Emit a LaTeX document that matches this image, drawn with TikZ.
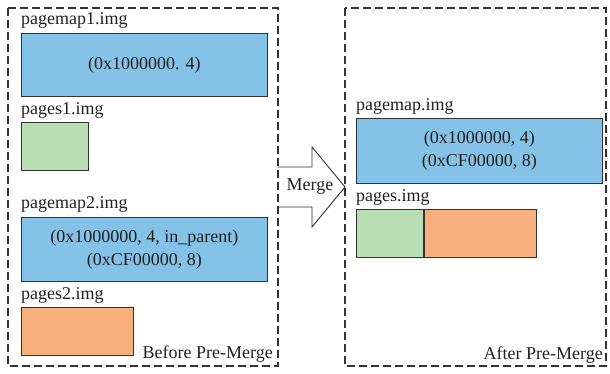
\documentclass[tikz,border=0pt]{standalone}
\usepackage{fontspec}
\setmainfont{Liberation Serif}
\definecolor{mapblue}{HTML}{85C2E8}
\definecolor{pagegreen}{HTML}{BADEB3}
\definecolor{pageorange}{HTML}{F8AF7D}
\definecolor{edgegray}{HTML}{333333}
\definecolor{inkgray}{HTML}{231F20}
\newcommand{\lblfont}{\fontsize{18pt}{23pt}\selectfont}
\begin{document}
\begin{tikzpicture}[x=1pt,y=-1pt,
  every node/.style={text=inkgray, font=\lblfont},
  frame/.style={draw=edgegray, line width=1.2pt, dash pattern=on 8pt off 4pt},
  block/.style={draw=edgegray, line width=0.9pt, inner sep=0pt, anchor=north west},
  mapbox/.style={block, fill=mapblue, minimum width=246, minimum height=64, align=center},
  greenpage/.style={block, fill=pagegreen, minimum height=48},
  orangepage/.style={block, fill=pageorange, minimum height=48},
  lbl/.style={anchor=base west, inner sep=0pt},
  corner/.style={anchor=base east, inner sep=0pt}]
\useasboundingbox (0,0) rectangle (610,373);

% merge arrow (left side open, it sits on the frame edge)
\fill[white] (278,167) -- (312,167) -- (312,147) -- (345,187) -- (312,227) -- (312,207) -- (278,207) -- cycle;
\draw[edgegray, line width=0.9pt, line join=miter] (278,167) -- (312,167) -- (312,147) -- (345,187) -- (312,227) -- (312,207) -- (278,207);
\node[inner sep=0pt] (merge) at (310,187) {Merge};

% frames
\draw[frame] (8,8) rectangle (278,366);
\draw[frame] (345,8) rectangle (606,366);

% before pre-merge
\node[lbl] (pm1lbl) at (21,24) {pagemap1.img};
\node[mapbox, minimum height=63] (pm1) at (21,33) {(0x1000000. 4)};
\node[lbl] (p1lbl) at (21,114) {pages1.img};
\node[greenpage, minimum width=67] (p1) at (21,122) {};
\node[lbl] (pm2lbl) at (21,208) {pagemap2.img};
\node[mapbox] (pm2) at (21,217) {(0x1000000, 4, in\_parent)\\(0xCF00000, 8)};
\node[lbl] (p2lbl) at (21,299) {pages2.img};
\node[orangepage, minimum width=112] (p2) at (21,307) {};
\node[corner] (before) at (273,358) {Before Pre-Merge};

% after pre-merge
\node[lbl] (pmlbl) at (356,110) {pagemap.img};
\node[mapbox, minimum height=65] (pm) at (356,118) {(0x1000000, 4)\\(0xCF00000, 8)};
\node[lbl] (plbl) at (356,201) {pages.img};
\node[greenpage, minimum width=67] (pg) at (356,209) {};
\node[orangepage, minimum width=112] (po) at (pg.north east) {};
\node[corner] (after) at (603,359) {After Pre-Merge};
\end{tikzpicture}
\end{document}
